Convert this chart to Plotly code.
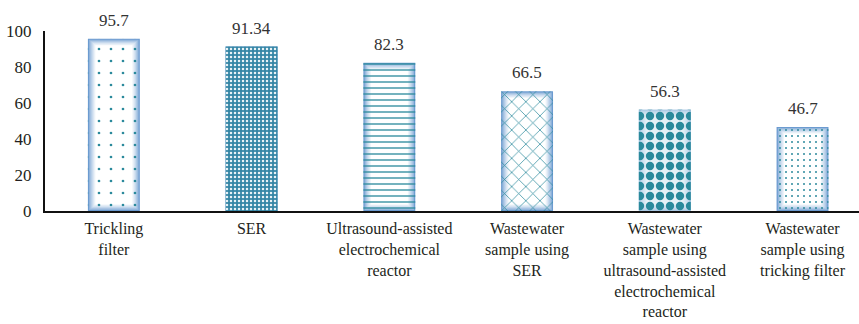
import plotly.graph_objects as go

categories = [
    "Trickling<br>filter",
    "SER",
    "Ultrasound-assisted<br>electrochemical<br>reactor",
    "Wastewater<br>sample using<br>SER",
    "Wastewater<br>sample using<br>ultrasound-assisted<br>electrochemical<br>reactor",
    "Wastewater<br>sample using<br>tricking filter",
]
values = [95.7, 91.34, 82.3, 66.5, 56.3, 46.7]
value_labels = ["95.7", "91.34", "82.3", "66.5", "56.3", "46.7"]
y_ticks = [0, 20, 40, 60, 80, 100]

# styling
SERIF = "Liberation Serif"
BAR_W = 0.377
N_LAYERS = 7
DX = 0.009   # horizontal inset per gradient layer (axis units)
DY = 0.6     # vertical inset per gradient layer (data units)
edge = (108, 155, 208)
teal = "#2b8a9c"

def mix(c, t):
    return "rgb(%d,%d,%d)" % tuple(round(c[i] + (255 - c[i]) * t) for i in range(3))

fig = go.Figure()

# gradient fill built as nested bars (edge blue -> white centre)
for k in range(N_LAYERS):
    t = (k / (N_LAYERS - 1)) ** 0.7
    fig.add_bar(
        x=categories,
        y=[v - 2 * k * DY for v in values],
        base=[k * DY] * len(values),
        width=BAR_W - 2 * k * DX,
        marker=dict(color=mix(edge, t), line=dict(width=0)),
        hoverinfo="skip",
        showlegend=False,
    )

# pattern overlay
fig.add_bar(
    x=categories,
    y=values,
    width=BAR_W,
    marker=dict(
        color="rgba(0,0,0,0)",
        line=dict(width=0),
        pattern=dict(
            shape=[".", ".", "-", "x", ".", "."],
            size=[12, 4, 6, 10, 10, 6],
            solidity=[0.04, 0.3, 0.22, 0.14, 0.55, 0.09],
            fgcolor=[teal, "#e9f3f7", teal, teal, teal, teal],
            bgcolor=["rgba(0,0,0,0)", "#3586a6", "rgba(0,0,0,0)",
                     "rgba(0,0,0,0)", "rgba(214,232,242,0.6)", "rgba(0,0,0,0)"],
            fillmode="replace",
        ),
    ),
    showlegend=False,
)

for c, v, s in zip(categories, values, value_labels):
    fig.add_annotation(
        x=c, y=v, text=s, showarrow=False, yanchor="bottom", yshift=7,
        font=dict(family=SERIF, size=17, color="#333333"),
    )

fig.update_layout(
    width=859, height=324,
    margin=dict(l=45, r=0, t=31, b=113),
    barmode="overlay",
    paper_bgcolor="white", plot_bgcolor="white",
    font=dict(family=SERIF, size=16, color="#231f20"),
    xaxis=dict(
        range=[-0.5, 5.41], showgrid=False, showline=True, linecolor="#111111",
        linewidth=2, ticks="", tickangle=0, ticklabelstandoff=2,
        tickfont=dict(family=SERIF, size=16, color="#231f20"),
    ),
    yaxis=dict(
        range=[0, 100], tickvals=y_ticks, showgrid=False, showline=True,
        linecolor="#111111", linewidth=2, ticks="", zeroline=False,
        ticklabelstandoff=8,
        tickfont=dict(family=SERIF, size=17, color="#231f20"),
    ),
)

fig.write_html("out.html")
